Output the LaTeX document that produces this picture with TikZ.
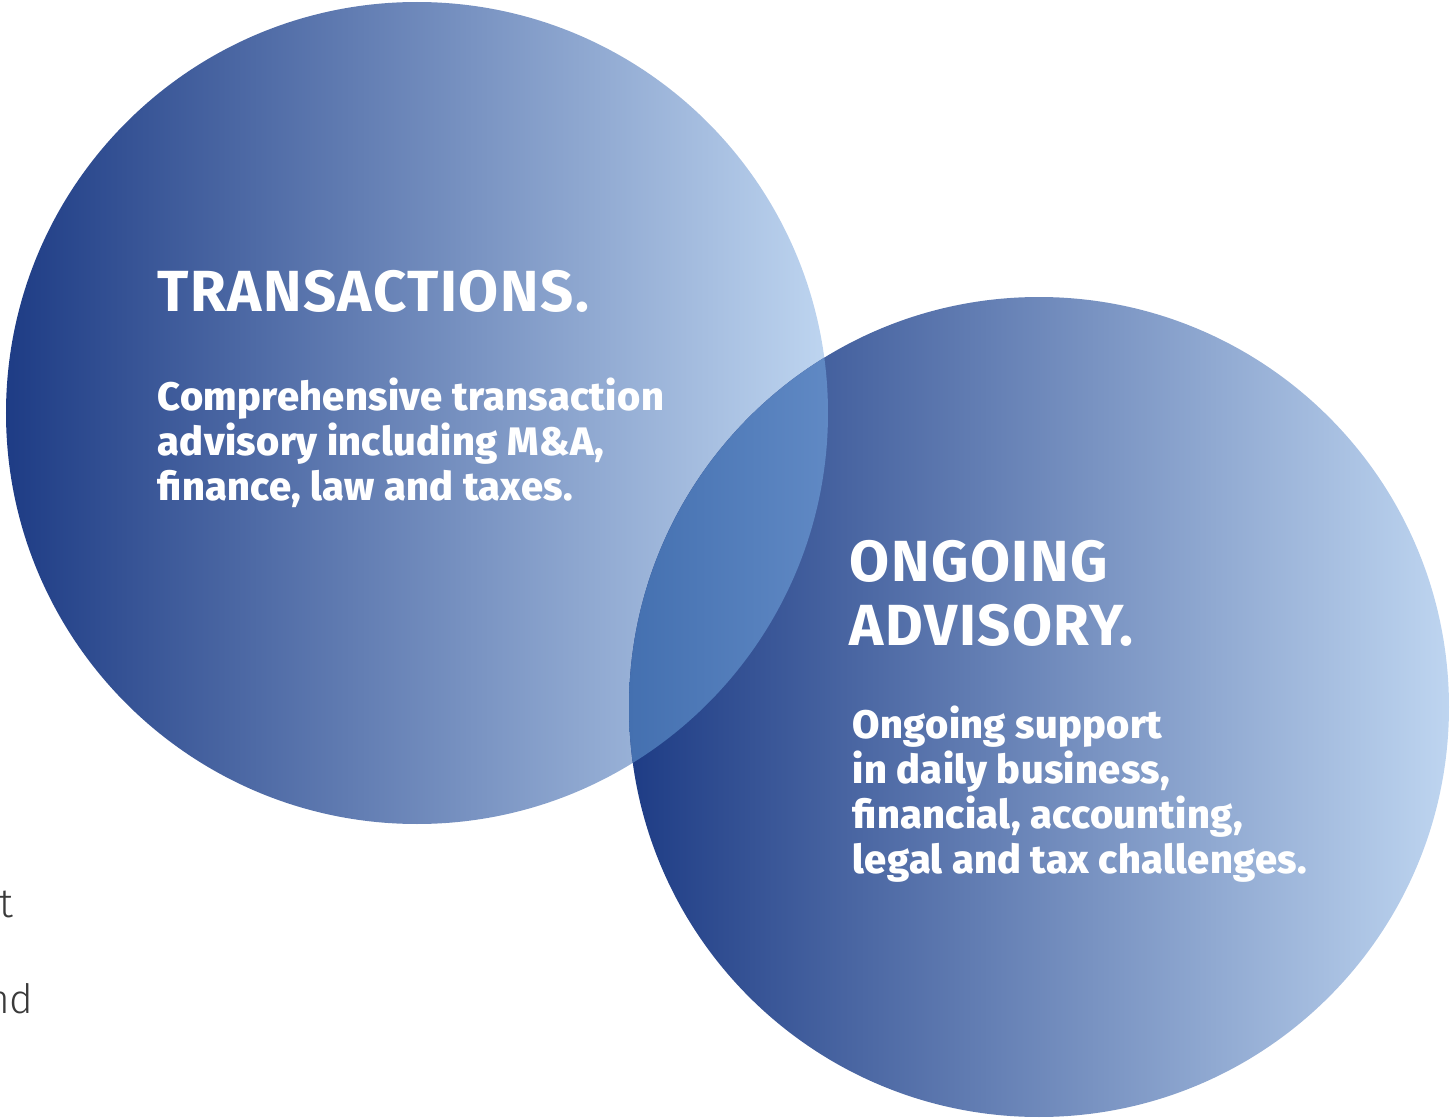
\documentclass[tikz,border=0pt]{standalone}
\usepackage{fontspec}
\setsansfont{Fira Sans}
\newfontfamily\thinfont{Fira Sans Light}
\newfontfamily\headfont{Fira Sans Bold}[LetterSpace=2.6]
\newfontfamily\heavyfont{Fira Sans ExtraBold}[LetterSpace=1]
\usetikzlibrary{positioning}

\definecolor{navy}{HTML}{1E3C85}
\definecolor{paleblue}{HTML}{BED5F0}
\definecolor{lensleft}{HTML}{4470B0}
\definecolor{lensright}{HTML}{6089C4}
\definecolor{inkgray}{HTML}{3A3A3A}

\tikzset{
  bubble/.style={left color=navy, right color=paleblue},
  heading/.style={anchor=base west, inner sep=0pt, align=left, text=white,
    font=\headfont\fontsize{16.5}{18.2}\selectfont},
  blurb/.style={anchor=north west, inner sep=0pt, align=left, text=white,
    font=\heavyfont\fontsize{11.3}{12.8}\selectfont},
  cutoff/.style={anchor=base east, inner sep=0pt, text=inkgray,
    font=\thinfont\fontsize{11.5}{13}\selectfont}
}

\begin{document}
\begin{tikzpicture}[x=0.01cm, y=-0.01cm]
\useasboundingbox (0,0) rectangle (1450,1118);

% circles
\shade[bubble] (417,413) circle[radius=411];
\shade[bubble] (1039,707) circle[radius=410];

% where they overlap
\begin{scope}
  \clip (417,413) circle[radius=411];
  \clip (1039,707) circle[radius=410];
  \shade[left color=lensleft, right color=lensright] (629,297) rectangle (828,825);
\end{scope}

% left circle
\node[heading] (trans) at (157,311) {TRANSACTIONS.};
\node[blurb] (transtxt) at (157,377) {Comprehensive transaction\\advisory including M\&A,\\finance, law and taxes.};

% right circle
\node[heading] (ongoing) at (849,646) {ONGOING\\ADVISORY.};
\node[blurb] (ongoingtxt) at (852,705) {Ongoing support\\in daily business,\\financial, accounting,\\legal and tax challenges.};

% text cut off at the left edge
\node[cutoff] (frag1) at (14,917) {t};
\node[cutoff] (frag2) at (34,1013) {nd};
\end{tikzpicture}
\end{document}
